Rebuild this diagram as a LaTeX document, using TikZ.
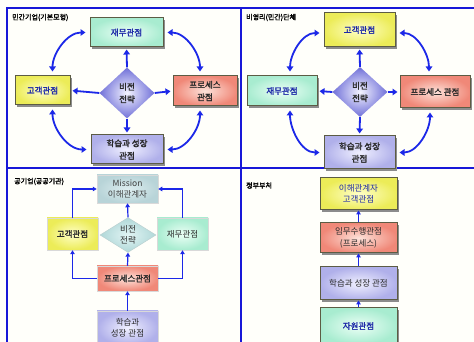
\documentclass[tikz,border=0pt]{standalone}
\usepackage{fontspec}
\setmainfont{Noto Sans CJK KR}[AutoFakeBold=2]
\usetikzlibrary{arrows.meta,shapes.geometric,shadows}
\definecolor{bgcol}{HTML}{FFFFFA}
\definecolor{frameblue}{HTML}{1818D8}
\definecolor{arrblue}{HTML}{1C28E8}
\definecolor{boxedge}{HTML}{5C5C44}
\definecolor{txtblue}{HTML}{1E2AA8}
\definecolor{txtdark}{HTML}{2A2A2A}
\definecolor{yelIn}{HTML}{FFFFC8}
\definecolor{yelOut}{HTML}{ECEC58}
\definecolor{grnIn}{HTML}{ECFFF6}
\definecolor{grnOut}{HTML}{A8ECD0}
\definecolor{pnkIn}{HTML}{FDE2DA}
\definecolor{pnkOut}{HTML}{F08878}
\definecolor{lavIn}{HTML}{F0F0FF}
\definecolor{lavOut}{HTML}{B0B0EA}
\definecolor{dmIn}{HTML}{F4F4FF}
\definecolor{dmOut}{HTML}{7070D8}
\definecolor{misIn}{HTML}{DDEDEF}
\definecolor{misOut}{HTML}{B8D4D8}
\definecolor{tealIn}{HTML}{E2F4F4}
\definecolor{tealOut}{HTML}{B0D8D8}
\begin{document}
\begin{tikzpicture}[x=1pt,y=1pt,
  frame/.style={draw=frameblue, line width=2pt},
  plabel/.style={font=\fontsize{7}{7.5}\selectfont\bfseries, text=black, inner sep=0pt},
  pbox/.style={draw=boxedge, line width=1pt, align=center, inner sep=1pt,
    font=\fontsize{8.5}{12.5}\selectfont\bfseries,
    drop shadow={shadow xshift=2pt, shadow yshift=-2pt, fill=black!45, opacity=1}},
  qbox/.style={draw=black!15, line width=0.5pt, align=center, inner sep=1pt,
    font=\fontsize{8.5}{11.5}\selectfont, text=txtdark},
  yelbox/.style={inner color=yelIn, outer color=yelOut},
  grnbox/.style={inner color=grnIn, outer color=grnOut},
  pnkbox/.style={inner color=pnkIn, outer color=pnkOut},
  lavbox/.style={inner color=lavIn, outer color=lavOut},
  misbox/.style={inner color=misIn, outer color=misOut},
  dmnode/.style={diamond, inner sep=0pt, align=center, inner color=dmIn, outer color=dmOut,
    font=\fontsize{8.5}{12.5}\selectfont\bfseries, text=txtdark},
  carr/.style={draw=arrblue, line width=1.8pt,
    {Triangle[length=5pt,width=6.5pt]}-{Triangle[length=5pt,width=6.5pt]},
    shorten <=4pt, shorten >=4pt},
  darr/.style={draw=arrblue, line width=1.8pt, -{Triangle[length=5pt,width=6.5pt]},
    shorten >=2pt},
  tarr/.style={draw=arrblue, line width=1.2pt, -{Triangle[length=4pt,width=4.5pt]}}
]
\useasboundingbox (0,0) rectangle (474,342);
\fill[bgcol] (0,0) rectangle (474,342);
\draw[frame] (7,0) -- (7,334) -- (474,334);
\draw[frame] (241,0) -- (241,334);
\draw[frame] (7,174) -- (474,174);

% panel labels
\node[plabel, anchor=west] (l1) at (12,324.5) {민간기업(기본모형)};
\node[plabel, anchor=west] (l2) at (246,324.5) {비영리(민간)단체};
\node[plabel, anchor=west] (l3) at (14,160.5) {공기업(공공기관)};
\node[plabel, anchor=west] (l4) at (246,156.5) {정부부처};

% ---------- panel 1 ----------
\node[pbox, grnbox, text=txtblue, minimum width=73pt, minimum height=29pt] (jm1) at (126.5,309.5) {재무관점};
\node[pbox, yelbox, text=txtblue, minimum width=55pt, minimum height=29pt] (gk1) at (42.5,251.5) {고객관점};
\node[pbox, pnkbox, text=txtdark, minimum width=64pt, minimum height=30pt] (pr1) at (205,251) {프로세스\\관점};
\node[pbox, lavbox, text=txtdark, minimum width=72pt, minimum height=29pt] (hs1) at (127,192.5) {학습과 성장\\관점};
\node[dmnode, minimum width=55pt, minimum height=51pt] (dm1) at (127,249) {비전\\전략};
\draw[darr] (dm1.north) -- (jm1.south);
\draw[darr] (dm1.south) -- (hs1.north);
\draw[darr] (dm1.west) -- (gk1.east);
\draw[darr] (dm1.east) -- (pr1.west);
\draw[carr] ([xshift=10pt]gk1.north) to[out=90,in=180] (jm1.west);
\draw[carr] (jm1.east) to[out=0,in=90] ([xshift=-5pt]pr1.north);
\draw[carr] ([xshift=10pt]gk1.south) to[out=-90,in=180] (hs1.west);
\draw[carr] (hs1.east) to[out=0,in=-90] ([xshift=-5pt]pr1.south);

% ---------- panel 2 ----------
\node[pbox, yelbox, text=txtblue, minimum width=71pt, minimum height=34pt] (gk2) at (359.5,312) {고객관점};
\node[pbox, grnbox, text=txtblue, minimum width=70pt, minimum height=30pt] (jm2) at (282,251) {재무관점};
\node[pbox, pnkbox, text=txtdark, minimum width=70pt, minimum height=32pt] (pr2) at (435,250) {프로세스 관점};
\node[pbox, lavbox, text=txtdark, minimum width=71pt, minimum height=33pt] (hs2) at (359.5,189.5) {학습과 성장\\관점};
\node[dmnode, minimum width=55pt, minimum height=50pt] (dm2) at (360,250) {비전\\전략};
\draw[darr] (dm2.north) -- (gk2.south);
\draw[darr] (dm2.south) -- (hs2.north);
\draw[darr] (dm2.west) -- (jm2.east);
\draw[darr] (dm2.east) -- (pr2.west);
\draw[carr] ([xshift=8pt]jm2.north) to[out=90,in=180] ([yshift=-3pt]gk2.west);
\draw[carr] ([yshift=-3pt]gk2.east) to[out=0,in=90] ([xshift=-6pt]pr2.north);
\draw[carr] ([xshift=8pt]jm2.south) to[out=-90,in=180] (hs2.west);
\draw[carr] (hs2.east) to[out=0,in=-90] ([xshift=-5pt]pr2.south);

% ---------- panel 3 ----------
\node[qbox, misbox, text=black!75, minimum width=61pt, minimum height=28pt] (ms3) at (127.5,153) {Mission\\이해관계자};
\node[qbox, yelbox, font=\fontsize{8.5}{11.5}\selectfont\bfseries, minimum width=51pt, minimum height=32pt] (gk3) at (72.5,108) {고객관점};
\node[qbox, grnbox, minimum width=51pt, minimum height=32pt] (jm3) at (182.5,108) {재무관점};
\node[diamond, inner sep=0pt, align=center, draw=tealOut!80!black!60, inner color=tealIn, outer color=tealOut,
  font=\fontsize{8.5}{11.5}\selectfont, text=txtdark, minimum width=56pt, minimum height=33pt] (dm3) at (128,107) {비전\\전략};
\node[qbox, pnkbox, font=\fontsize{8.5}{11.5}\selectfont\bfseries, minimum width=61pt, minimum height=25pt] (pr3) at (127.5,63.5) {프로세스관점};
\node[qbox, lavbox, minimum width=61pt, minimum height=34pt] (hs3) at (127.5,14) {학습과\\성장 관점};
\draw[tarr] (pr3.west) -| (gk3.south);
\draw[tarr] (gk3.north) |- (ms3.west);
\draw[tarr] (pr3.east) -| (jm3.south);
\draw[tarr] (jm3.north) |- (ms3.east);
\draw[tarr] (pr3.north) -- (dm3.south);
\draw[tarr] (dm3.north) -- (ms3.south);
\draw[tarr] (hs3.north) -- (pr3.south);

% ---------- panel 4 ----------
\node[pbox, yelbox, text=txtblue, font=\fontsize{8.5}{11.5}\selectfont, minimum width=77pt, minimum height=32pt] (ig4) at (358.5,148) {이해관계자\\고객관점};
\node[pbox, pnkbox, text=txtdark, font=\fontsize{8.5}{11.5}\selectfont, minimum width=77pt, minimum height=30pt] (im4) at (358.5,104) {임무수행관점\\(프로세스)};
\node[pbox, lavbox, text=txtdark, font=\fontsize{8.5}{11.5}\selectfont, minimum width=77pt, minimum height=33pt] (hs4) at (358.5,58.5) {학습과 성장 관점};
\node[pbox, grnbox, text=txtblue, font=\fontsize{8.5}{11.5}\selectfont\bfseries, minimum width=77pt, minimum height=36pt] (jw4) at (358.5,16) {자원관점};
\draw[tarr] (jw4.north) -- (hs4.south);
\draw[tarr] (hs4.north) -- (im4.south);
\draw[tarr] (im4.north) -- (ig4.south);
\end{tikzpicture}
\end{document}
